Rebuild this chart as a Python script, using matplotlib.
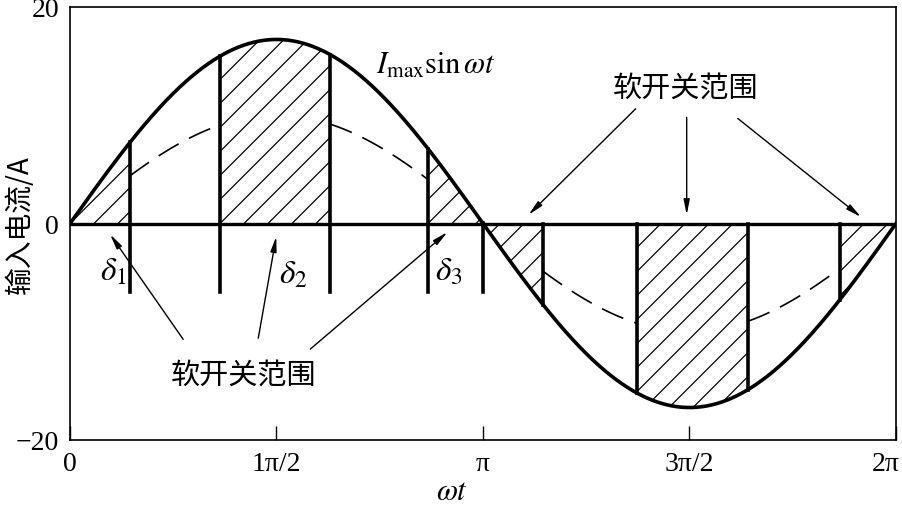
import numpy as np
import matplotlib
matplotlib.use("Agg")
import matplotlib.pyplot as plt
import matplotlib.transforms as mtransforms

plt.rcParams['font.family'] = ['Liberation Serif', 'Noto Sans CJK SC', 'DejaVu Sans']
plt.rcParams['mathtext.fontset'] = 'stix'

# --- data ---
i_max = 17.0          # amplitude of Imax*sin(wt)
i_dash = 10.0         # amplitude of the dashed curve
# switching edges (rad)
pos_edges = [0.456, 1.141, 1.978, 2.723, np.pi]
neg_edges = [3.598, 4.313, 5.157, 5.857]
edge_bottom = -6.3    # lower end of the edges in the positive half
hatch_spans = [(0, 0.456), (1.141, 1.978), (2.723, 3.598), (4.313, 5.157), (5.857, 2 * np.pi)]
dash_spans = [(0.456, 1.141), (1.978, 2.723), (3.598, 4.313), (5.157, 5.857)]

xticks = [0, np.pi / 2, np.pi, 3 * np.pi / 2, 2 * np.pi]
xtick_labels = ['0', '1π/2', 'π', '3π/2', '2π']
yticks = [-20, 0, 20]
ytick_labels = ['−20', '0', '20']

cn_label = '软开关范围'
bottom_text = (1.318, -14.0)
bottom_heads = [(0.305, -1.0), (1.569, -1.2), (2.871, -0.8)]
bottom_tails = [(0.861, -10.7), (1.432, -10.6), (1.828, -11.6)]
top_text = (4.684, 12.6)
top_heads = [(3.488, 0.8), (4.691, 0.8), (6.017, 0.6)]
top_tails = [(4.303, 10.6), (4.691, 9.8), (5.080, 9.7)]
delta_pos = [(0.327, -4.4), (1.698, -4.7), (2.879, -4.4)]

cjk = ['Noto Sans CJK SC', 'DejaVu Sans']

fig = plt.figure(figsize=(9.03, 5.06), dpi=100)
ax = fig.add_axes([70 / 903, 65 / 506, 826 / 903, 433 / 506])
ax.set_xlim(0, 2 * np.pi)
ax.set_ylim(-20, 20)

x = np.linspace(0, 2 * np.pi, 1000)
ax.plot(x, i_max * np.sin(x), color='black', lw=2.6, zorder=4)
ax.axhline(0, color='black', lw=2.4, zorder=4)

# dashed curve between the edges
for a, b in dash_spans:
    xs = np.linspace(a, b, 100)
    ax.plot(xs, i_dash * np.sin(xs), color='black', lw=1.2, dashes=(14, 7), zorder=3)

# vertical edges
for e in pos_edges:
    ax.plot([e, e], [edge_bottom, i_max * np.sin(e)], color='black', lw=2.6, zorder=4)
for e in neg_edges:
    ax.plot([e, e], [0, i_max * np.sin(e)], color='black', lw=2.6, zorder=4)

# hatched soft-switching regions, hatch lines drawn by hand (45 deg on screen)
fig.canvas.draw()
p0 = ax.transData.transform((0, 0))
p1 = ax.transData.transform((1, 1))
sx, sy = p1[0] - p0[0], p1[1] - p0[1]   # px per data unit
slope = sx / sy
step = 24 / sx
for a, b in hatch_spans:
    xs = np.linspace(a, b, 200)
    poly = ax.fill_between(xs, 0, i_max * np.sin(xs), facecolor='none', edgecolor='none')
    path = poly.get_paths()[0]
    c = a - 20 * step
    while c < b + 20 * step:
        ln, = ax.plot([c - 30, c + 30], [-30 * slope, 30 * slope], color='black', lw=0.9, zorder=2)
        ln.set_clip_path(path, ax.transData)
        c += step

# annotations
arrow = dict(arrowstyle='-|>,head_length=0.9,head_width=0.18', color='black', lw=1.0,
             shrinkA=0, shrinkB=0)
for h, t in zip(bottom_heads, bottom_tails):
    ax.annotate('', xy=h, xytext=t, arrowprops=arrow)
for h, t in zip(top_heads, top_tails):
    ax.annotate('', xy=h, xytext=t, arrowprops=arrow)
ax.text(*bottom_text, cn_label, fontsize=21, ha='center', va='center', family=cjk)
ax.text(*top_text, cn_label, fontsize=21, ha='center', va='center', family=cjk)
for k, (dx, dy) in enumerate(delta_pos):
    ax.text(dx, dy, r'$\delta_{%d}$' % (k + 1), fontsize=24, ha='center', va='center')
ax.text(2.33, 14.6, r'$I_{\rm max}\sin\omega t$', fontsize=22, ha='left', va='center')

ax.set_xticks(xticks)
ax.set_xticklabels(xtick_labels, fontsize=20)
ax.set_yticks(yticks)
ax.set_yticklabels(ytick_labels, fontsize=20)
ax.tick_params(axis='x', direction='in', length=10, width=1, pad=8)
ax.tick_params(axis='y', length=0, pad=8)
# last x label sits a bit to the left, as in the original
last = ax.get_xticklabels()[-1]
last.set_transform(last.get_transform() + mtransforms.ScaledTranslation(-10 / 100, 0, fig.dpi_scale_trans))
for s in ax.spines.values():
    s.set_linewidth(1.2)
ax.set_xlabel(r'$\omega t$', fontsize=22, va='center')
ax.xaxis.set_label_coords(0.462, -0.12)
ax.set_ylabel('输入电流/A', fontsize=20, family=cjk, va='center')
ax.yaxis.set_label_coords(-0.0605, 0.5)

fig.savefig('out.png', dpi=100)
